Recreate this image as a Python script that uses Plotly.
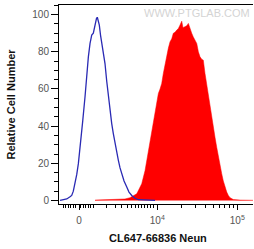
import plotly.graph_objects as go

# Display coordinate: decades on a biexponential axis (0 sits near 3.02)
blue_x = [2.784, 2.825, 2.868, 2.909, 2.930, 2.950, 2.971, 2.993, 3.013, 3.043, 3.068, 3.096,
          3.118, 3.138, 3.159, 3.180, 3.200, 3.221, 3.240, 3.250, 3.263, 3.275, 3.290, 3.305,
          3.325, 3.346, 3.368, 3.388, 3.409, 3.430, 3.450, 3.471, 3.493, 3.513, 3.534, 3.555,
          3.584, 3.618, 3.646, 3.680, 3.721, 3.763, 3.846, 3.971]
blue_y = [0, 0.3, 0.8, 2, 2.7, 5, 9, 14, 19.8, 30.6, 43, 55.7,
          70, 77.3, 84.5, 89, 90, 95.3, 98, 98.6, 97, 94.4, 89, 84.5,
          77.3, 73.7, 64, 55.7, 48.5, 41.4, 36, 30.6, 26, 21.6, 17.5, 14.4,
          10.5, 7.2, 4.5, 2.7, 1.2, 0.4, 0.2, 0]

red_x = [3.221, 3.346, 3.471, 3.596, 3.659, 3.700, 3.743, 3.771, 3.805, 3.846, 3.888, 3.930,
         3.971, 4.013, 4.034, 4.055, 4.075, 4.096, 4.118, 4.138, 4.159, 4.180, 4.200, 4.221,
         4.243, 4.263, 4.284, 4.305, 4.321, 4.346, 4.368, 4.388, 4.403, 4.409, 4.430, 4.450,
         4.471, 4.493, 4.513, 4.534, 4.555, 4.575, 4.596, 4.618, 4.638, 4.659, 4.680, 4.700,
         4.721, 4.743, 4.763, 4.784, 4.805, 4.825, 4.846, 4.868, 4.888, 4.909, 4.950, 5.034,
         5.196]
red_y = [0.2, 0.4, 0.5, 0.8, 1.5, 2.5, 3.6, 6, 9, 16, 27, 37.8,
         48.6, 57.6, 60, 63, 68.4, 73.7, 79, 82, 85.4, 87, 90, 90.5,
         91.7, 92.5, 94.4, 96.5, 93, 93.5, 94, 95.3, 93, 93.5, 90, 88,
         86, 84.5, 80, 77.3, 76, 75.5, 68.4, 62, 55.7, 50, 45, 39,
         34, 28.5, 23.4, 18.5, 14.4, 10.5, 7.2, 4.5, 2.7, 1.5, 0.5, 0.2,
         0.1]

x_tick_vals = [3.021, 4.0, 5.0]
x_tick_text = ["0", "10<sup>4</sup>", "10<sup>5</sup>"]
x_minor_vals = [2.821, 2.853, 2.884, 2.915, 2.946, 2.978, 3.040, 3.071, 3.103, 3.134, 3.165, 3.196,
                3.359, 3.475, 3.555, 3.621, 3.671, 3.721, 3.759, 3.796, 3.834, 3.871, 3.909, 3.946,
                4.301, 4.477, 4.602, 4.699, 4.778, 4.845, 4.903, 4.954]
y_tick_vals = [0, 20, 40, 60, 80, 100]

FONT = "Arial, Liberation Sans, sans-serif"

fig = go.Figure()
fig.add_trace(go.Scatter(x=red_x, y=red_y, mode="lines", fill="tozeroy",
                         line=dict(color="#ff0000", width=0.5), fillcolor="#ff0000",
                         hoverinfo="skip", showlegend=False))
fig.add_trace(go.Scatter(x=blue_x, y=blue_y, mode="lines",
                         line=dict(color="#2a2ab4", width=1.3),
                         hoverinfo="skip", showlegend=False))

fig.update_layout(
    width=254, height=249,
    margin=dict(l=59, r=1, t=5, b=45, pad=0),
    paper_bgcolor="white", plot_bgcolor="white",
    font=dict(family=FONT, size=10, color="#555555"),
    xaxis=dict(range=[2.771, 5.196], showgrid=False, zeroline=False,
               showline=True, linecolor="black", linewidth=1, mirror=True,
               tickmode="array", tickvals=x_tick_vals, ticktext=x_tick_text,
               ticks="outside", ticklen=5, tickwidth=1, tickcolor="black",
               ticklabelstandoff=2,
               tickfont=dict(family=FONT, size=10, color="#555555"),
               minor=dict(tickmode="array", tickvals=x_minor_vals, ticks="outside",
                          ticklen=3, tickwidth=1, tickcolor="black", showgrid=False),
               automargin=False),
    yaxis=dict(range=[-1.9, 105.2], showgrid=False, zeroline=False,
               showline=True, linecolor="black", linewidth=1,
               tickmode="array", tickvals=y_tick_vals,
               ticks="outside", ticklen=7, tickwidth=1, tickcolor="black",
               tickfont=dict(family=FONT, size=10, color="#555555"),
               minor=dict(dtick=5, tick0=0, ticks="outside", ticklen=4,
                          tickwidth=1, tickcolor="black", showgrid=False),
               title=dict(text="<b>Relative Cell Number</b>",
                          font=dict(family=FONT, size=11, color="#111111"),
                          standoff=14),
               automargin=False),
    annotations=[
        dict(text="<b>CL647-66836 Neun</b>", xref="paper", yref="paper",
             x=0.51, y=-0.17, xanchor="center", yanchor="middle", showarrow=False,
             font=dict(family=FONT, size=11, color="#111111")),
        dict(text="WWW.PTGLAB.COM", xref="paper", yref="paper",
             x=0.709, y=0.96, xanchor="center", yanchor="middle", showarrow=False,
             font=dict(family=FONT, size=11, color="#d4d4d4")),
    ],
)

fig.write_html("out.html", config={"displayModeBar": False},
               post_script="document.body.style.margin='0';document.body.style.overflow='hidden';")
